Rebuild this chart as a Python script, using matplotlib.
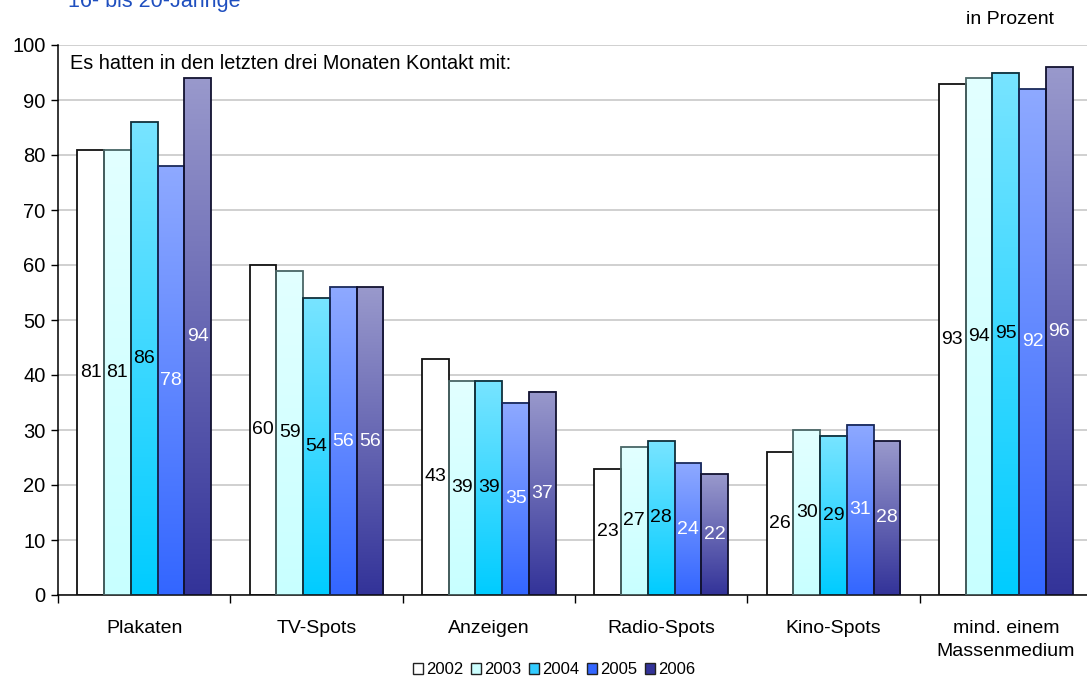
import numpy as np
import matplotlib
matplotlib.use("Agg")
import matplotlib.pyplot as plt
from matplotlib.colors import LinearSegmentedColormap
from matplotlib.patches import Patch

plt.rcParams["font.family"] = ["Liberation Sans", "DejaVu Sans"]

categories = ["Plakaten", "TV-Spots", "Anzeigen", "Radio-Spots", "Kino-Spots",
              "mind. einem\nMassenmedium"]
years = ["2002", "2003", "2004", "2005", "2006"]
v2002 = [81, 60, 43, 23, 26, 93]
v2003 = [81, 59, 39, 27, 30, 94]
v2004 = [86, 54, 39, 28, 29, 95]
v2005 = [78, 56, 35, 24, 31, 92]
v2006 = [94, 56, 37, 22, 28, 96]
series = [v2002, v2003, v2004, v2005, v2006]

# (top, bottom) gradient colours per year, edge colour, label colour
grad = [("#FFFFFF", "#FFFFFF"), ("#E2FFFF", "#C8FFFF"), ("#78E4FF", "#00CCFF"),
        ("#8EA9FF", "#3366FF"), ("#9999CC", "#333399")]
edges = ["#111111", "#4A6666", "#10303C", "#1A2A5A", "#121230"]
swatch = ["#FFFFFF", "#CCFFFF", "#33CCFF", "#3366FF", "#333399"]
lab_col = ["black", "black", "black", "white", "white"]

W, H = 1087, 677
fig = plt.figure(figsize=(W / 100, H / 100), dpi=100)
# plot area runs a little past the right edge of the canvas
ax = fig.add_axes([58 / W, 1 - 595 / H, (1092 - 58) / W, (595 - 45) / H])

n = len(years)
bw = 0.1555
x = np.arange(len(categories))
ramp = np.linspace(0, 1, 256).reshape(-1, 1)

for i, vals in enumerate(series):
    cmap = LinearSegmentedColormap.from_list(f"g{i}", list(grad[i]))
    xs = x + (i - (n - 1) / 2) * bw
    for xc, v in zip(xs, vals):
        ax.imshow(ramp, cmap=cmap, extent=(xc - bw / 2, xc + bw / 2, 0, v),
                  aspect="auto", origin="upper", zorder=2, interpolation="bilinear")
        ax.text(xc, v / 2, str(v), ha="center", va="center", fontsize=14,
                color=lab_col[i], zorder=4)
    ax.bar(xs, vals, width=bw, fill=False, edgecolor=edges[i], lw=1.3, zorder=3)

ax.set_xlim(-0.5, len(categories) - 0.5)
ax.set_ylim(0, 100)
ax.set_yticks(np.arange(0, 101, 10))
ax.yaxis.grid(True, color="#C8C8C8", lw=1.2, zorder=0)
ax.set_axisbelow(True)
ax.tick_params(axis="y", labelsize=14.5, length=5, width=1, pad=4)

ax.set_xticks(np.arange(-0.5, len(categories), 1.0))
ax.set_xticklabels([])
ax.set_xticks(x, minor=True)
ax.set_xticklabels(categories, minor=True, fontsize=14, linespacing=1.5)
ax.tick_params(axis="x", which="major", length=6, width=1)
ax.tick_params(axis="x", which="minor", length=0, pad=18)

for s in ("top", "right"):
    ax.spines[s].set_visible(False)
for s in ("left", "bottom"):
    ax.spines[s].set_linewidth(1.1)

ax.text(12 / (1092 - 58), 0.967, "Es hatten in den letzten drei Monaten Kontakt mit:",
        transform=ax.transAxes, ha="left", va="center", fontsize=14.3)

fig.text(68 / W, 1 - 2 / H, "16- bis 20-Jährige", ha="left", va="center",
         fontsize=15.5, color="#1F4FBF")
fig.text(1010 / W, 1 - 20 / H, "in Prozent", ha="center", va="center",
         fontsize=14)

handles = [Patch(facecolor=swatch[i], edgecolor="#222222", lw=1) for i in range(n)]
fig.legend(handles, years, loc="center", bbox_to_anchor=(554 / W, 1 - 670 / H),
           ncol=n, frameon=False, fontsize=12, handlelength=0.6,
           handleheight=0.6, handletextpad=0.2, columnspacing=0.45,
           borderpad=0.1)

fig.savefig("out.png", dpi=100)
